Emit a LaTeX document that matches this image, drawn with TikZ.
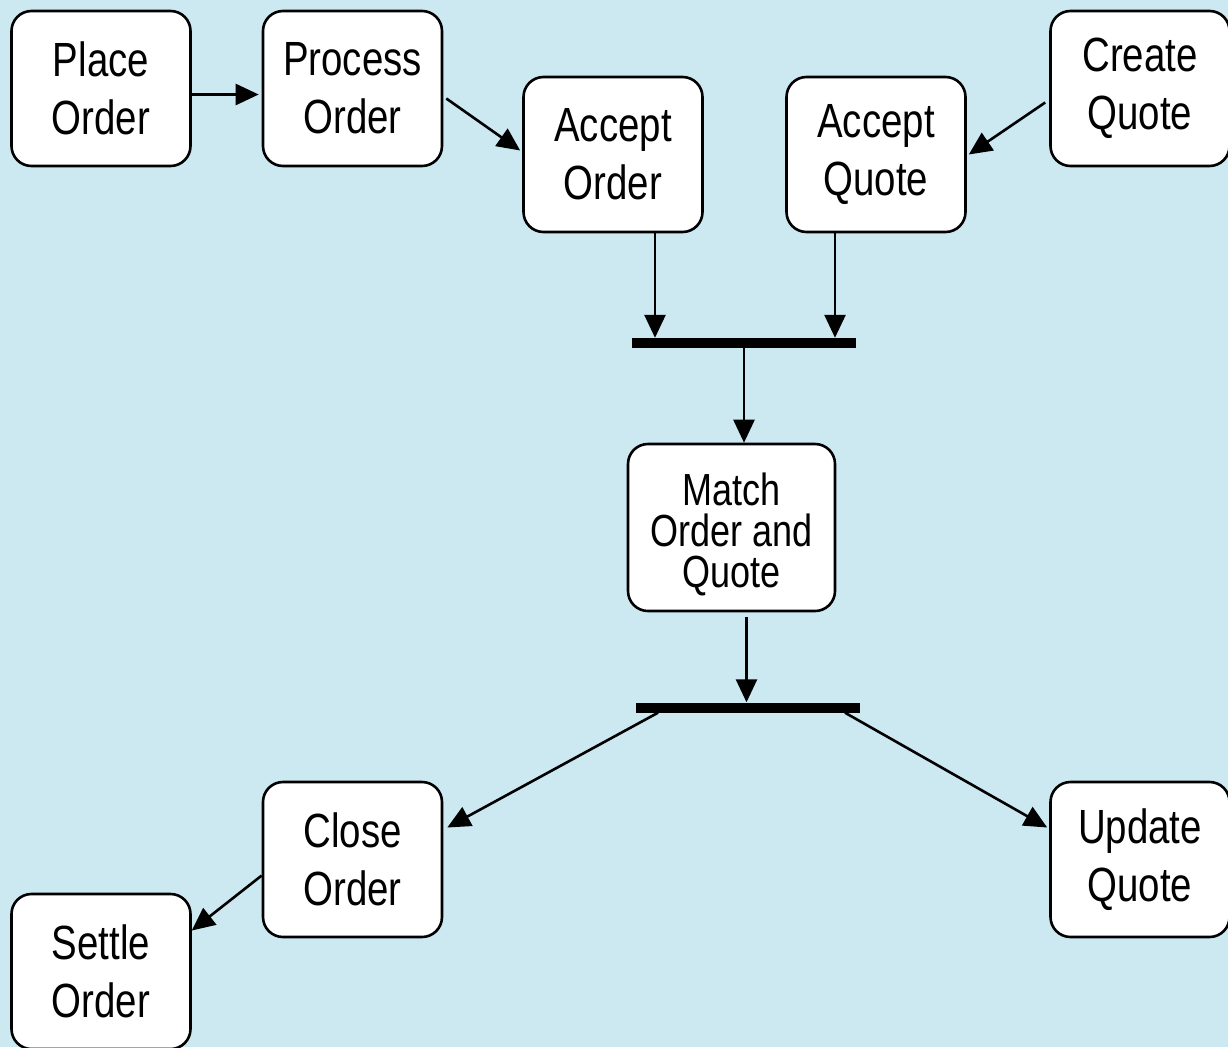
\documentclass[tikz,border=0pt]{standalone}
\usepackage{fontspec}
\setmainfont[FakeStretch=0.8]{Liberation Sans}
\usetikzlibrary{arrows.meta}
\definecolor{bgblue}{RGB}{204,233,241}
\tikzset{
  act/.style={draw=black, line width=2.6pt, fill=white, rounded corners=20pt,
    align=center, inner sep=0pt, minimum width=179pt, minimum height=155pt,
    font=\fontsize{48}{58}\selectfont},
  bar/.style={fill=black, draw=none, minimum width=224pt, minimum height=10pt, inner sep=0pt},
  flow/.style={line width=2.6pt, -{Triangle[length=23pt,width=21pt]}},
}
\begin{document}
\begin{tikzpicture}[x=1pt,y=-1pt]
\fill[bgblue] (0,0) rectangle (1228,1047);
\useasboundingbox (0,0) rectangle (1228,1047);

\node[act] (place)   at (101,88.5)  {Place\\Order};
\node[act] (process) at (352.5,88.5) {Process\\Order};
\node[act] (acco)    at (613,154.5) {Accept\\Order};
\node[act] (accq)    at (876,154.5) {Accept\\Quote};
\node[act] (create)  at (1140,88.5) {Create\\Quote};
\node[act, minimum width=207pt, minimum height=167pt, font=\fontsize{45}{41}\selectfont] (match) at (731.5,527.5) {\rule{0pt}{46pt}Match\\Order and\\Quote};
\node[act] (close)   at (352.5,859.5) {Close\\Order};
\node[act] (update)  at (1140,859.5) {Update\\Quote};
\node[act] (settle)  at (101,971.5) {Settle\\Order};

\node[bar] (bar1) at (744,343) {};
\node[bar] (bar2) at (748,707.5) {};

\draw[flow] ([yshift=-6pt]place.east) -- ([yshift=-6pt,xshift=-3pt]process.west);
\draw[flow] ([yshift=-10pt,xshift=3pt]process.east) -- ([yshift=4pt,xshift=-2pt]acco.west);
\draw[flow] ([yshift=-14pt,xshift=-4pt]create.west) -- ([xshift=2pt]accq.east);
\draw[flow] ([xshift=42pt]acco.south) -- ([xshift=42pt]acco.south |- bar1.north);
\draw[flow] ([xshift=-41pt]accq.south) -- ([xshift=-41pt]accq.south |- bar1.north);
\draw[flow] (bar1.south) -- (bar1.south |- match.north);
\draw[flow] ([xshift=15pt,yshift=-5pt]match.south) -- ([xshift=15pt]match.south |- bar2.north);
\draw[flow] ([xshift=-90pt]bar2.south) -- ([yshift=32pt,xshift=4pt]close.east);
\draw[flow] ([xshift=97pt]bar2.south) -- ([yshift=32pt,xshift=-2pt]update.west);
\draw[flow] ([yshift=-16pt]close.west) -- ([yshift=41pt]settle.east);
\end{tikzpicture}
\end{document}
